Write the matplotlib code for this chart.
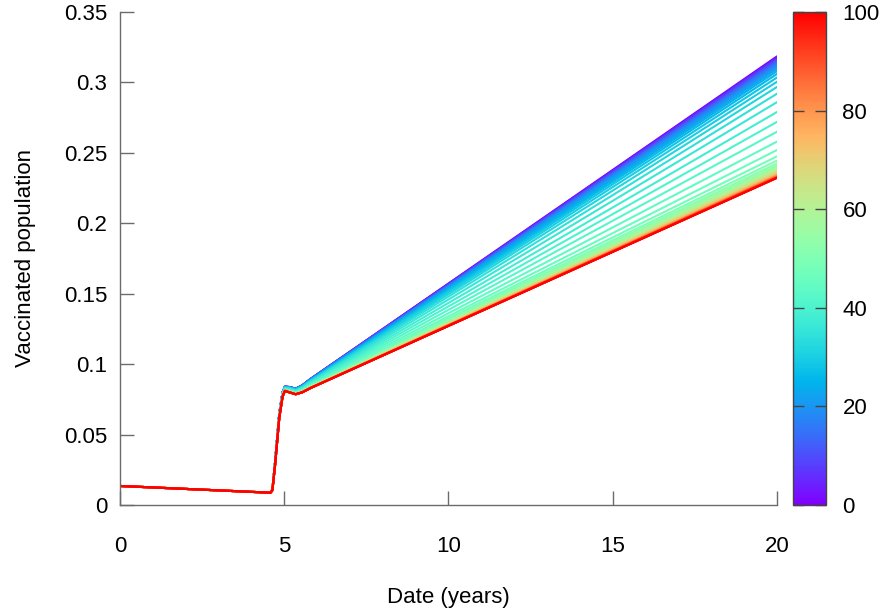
import numpy as np
import matplotlib.pyplot as plt
from matplotlib import cm
from matplotlib.colors import Normalize

plt.rcParams["font.family"] = ["Liberation Sans", "DejaVu Sans"]

# parameter values (colour scale) for each curve
param = list(range(0, 101, 2))

# value at t = 20 for each curve
end_val = [
    0.3185, 0.3180, 0.3175, 0.3170, 0.3164, 0.3157, 0.3150, 0.3142, 0.3133, 0.3122,
    0.3110, 0.3096, 0.3080, 0.3060, 0.3035, 0.3005, 0.2968, 0.2920, 0.2860, 0.2790,
    0.2720, 0.2650, 0.2580, 0.2520, 0.2475, 0.2445, 0.2425, 0.2410, 0.2398, 0.2388,
    0.2380, 0.2373, 0.2367, 0.2362, 0.2357, 0.2353, 0.2349, 0.2346, 0.2343, 0.2340,
    0.2337, 0.2335, 0.2333, 0.2331, 0.2329, 0.2327, 0.2326, 0.2325, 0.2324, 0.2323,
    0.2322,
]

# shared part before the jump
t_pre = [0.0, 4.50, 4.58]
v_pre = [0.0135, 0.0088, 0.0087]

# jump and bump, top curve (param 0) and bottom curve (param 100)
t_bump = [4.64, 4.72, 4.85, 4.95, 5.02, 5.15, 5.35, 5.55, 5.8]
v_bump_top = [0.0110, 0.030, 0.065, 0.080, 0.0840, 0.0838, 0.0826, 0.0850, 0.0895]
v_bump_bot = [0.0105, 0.028, 0.062, 0.077, 0.0810, 0.0800, 0.0786, 0.0800, 0.0830]

t_end = 20.0

xticks = [0, 5, 10, 15, 20]
yticks = [0, 0.05, 0.1, 0.15, 0.2, 0.25, 0.3, 0.35]
yticklabels = ["0", "0.05", "0.1", "0.15", "0.2", "0.25", "0.3", "0.35"]
cbar_ticks = [0, 20, 40, 60, 80, 100]

grey = "#6b6b6b"
fs = 16

fig = plt.figure(figsize=(8.86, 6.11), dpi=100)
ax = fig.add_axes([0.1354, 0.1735, 0.7416, 0.8069])
cax = fig.add_axes([0.895, 0.1735, 0.037, 0.8069])

cmap = plt.get_cmap("rainbow")
norm = Normalize(vmin=0, vmax=100)

top, bot = end_val[0], end_val[-1]
for p, e in zip(param, end_val):
    w = (top - e) / (top - bot)
    vb = [a + w * (b - a) for a, b in zip(v_bump_top, v_bump_bot)]
    t = t_pre + t_bump + [t_end]
    v = v_pre + vb + [e]
    ax.plot(t, v, color=cmap(norm(p)), lw=1.5, solid_capstyle="round")

ax.set_xlim(0, 20)
ax.set_ylim(0, 0.35)
ax.set_xticks(xticks)
ax.set_xticklabels([str(x) for x in xticks])
ax.set_yticks(yticks)
ax.set_yticklabels(yticklabels)
ax.spines["top"].set_visible(False)
ax.spines["right"].set_visible(False)
for s in ("left", "bottom"):
    ax.spines[s].set_color(grey)
    ax.spines[s].set_linewidth(1.0)
ax.tick_params(axis="both", direction="in", length=10, width=1.0, color=grey,
               labelsize=fs, labelcolor="black")
ax.tick_params(axis="x", pad=22)
ax.tick_params(axis="y", pad=9)
ax.set_xlabel("Date (years)", fontsize=fs, labelpad=22)
ax.set_ylabel("Vaccinated population", fontsize=fs, labelpad=20)

sm = cm.ScalarMappable(norm=norm, cmap=cmap)
cb = fig.colorbar(sm, cax=cax, ticks=cbar_ticks)
cb.outline.set_edgecolor("#444444")
cb.outline.set_linewidth(1.0)
cax.tick_params(which="both", direction="in", left=True, right=True,
                labelleft=False, labelright=True, length=8, width=1.0,
                color="#444444", labelsize=fs, pad=12)
cax.minorticks_off()

fig.savefig("out.png", dpi=100)
